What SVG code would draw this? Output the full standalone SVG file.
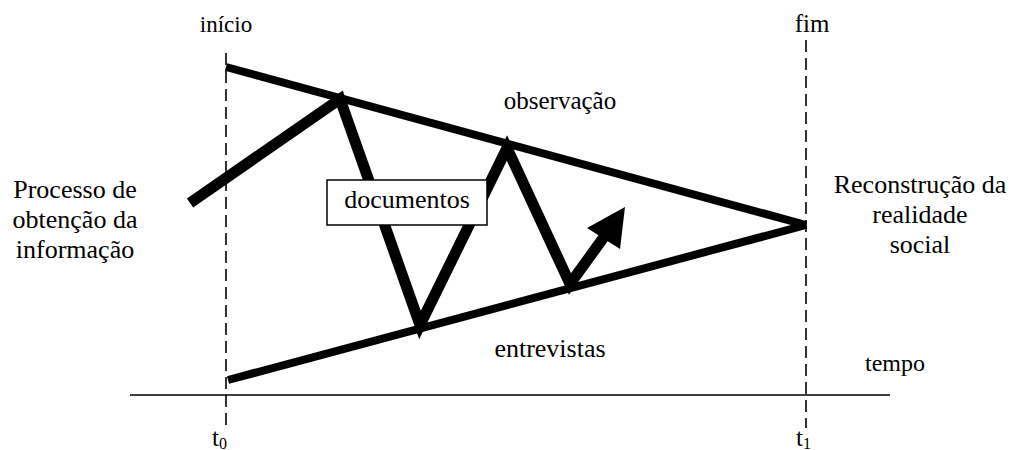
<svg xmlns="http://www.w3.org/2000/svg" width="1011" height="450" viewBox="0 0 1011 450">
<style>
text{font-family:'Liberation Serif','Times New Roman',serif;fill:#000}
.mid{text-anchor:middle}
.big{font-size:26px;text-anchor:middle}
.dash{stroke:#000;stroke-width:1.6;stroke-dasharray:12 6;fill:none}
.thick{stroke:#000;fill:none;stroke-linejoin:miter}
</style>
<rect width="1011" height="450" fill="#fff"/>
<g id="axes">
<line x1="130" y1="395" x2="890" y2="395" stroke="#000" stroke-width="1.6"/>
<line class="dash" x1="226" y1="53" x2="226" y2="428"/>
<line class="dash" x1="806" y1="40" x2="806" y2="428"/>
</g>
<g id="connectors">
<line class="thick" stroke-width="8" x1="226" y1="67" x2="806" y2="225"/>
<line class="thick" stroke-width="8" x1="806" y1="225" x2="228" y2="380"/>
<polyline class="thick" stroke-width="11" points="190,203 340,99 420,325 507,148 570,284 609,230"/>
<polygon points="625,207 587,228 620,249" fill="#000"/>
</g>
<g id="documentos">
<rect x="327" y="180" width="160" height="45" fill="#fff" stroke="#000" stroke-width="1.5"/>
<text class="big" x="407" y="208">documentos</text>
</g>
<g id="labels">
<text class="mid" x="226" y="32" font-size="23">início</text>
<text class="mid" x="812" y="32" font-size="25">fim</text>
<text class="mid" x="560" y="109" font-size="25">observação</text>
<text class="mid" x="550" y="357" font-size="26">entrevistas</text>
<text class="mid" x="895" y="371" font-size="24">tempo</text>
<text x="212" y="446" font-size="25">t<tspan font-size="16" dy="3">0</tspan></text>
<text x="796" y="446" font-size="25">t<tspan font-size="16" dy="3">1</tspan></text>
</g>
<g id="left-text">
<text class="big" x="75" y="198">Processo de</text>
<text class="big" x="75" y="228">obtenção da</text>
<text class="big" x="75" y="258">informação</text>
</g>
<g id="right-text">
<text class="big" x="920" y="193">Reconstrução da</text>
<text class="big" x="920" y="223">realidade</text>
<text class="big" x="920" y="253">social</text>
</g>
</svg>
